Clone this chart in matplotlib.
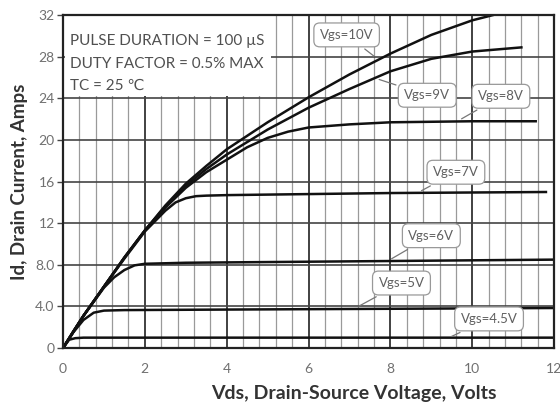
import numpy as np
import matplotlib.pyplot as plt
from matplotlib.patches import Rectangle

# Vds (V) / Id (A) points, one curve per Vgs
vds_10 = [0, 0.25, 0.5, 0.75, 1.0, 1.5, 2.0, 2.5, 3.0, 3.5, 4.0, 5.0, 6.0, 7.0, 8.0, 9.0, 10.0, 10.5]
id_10 = [0, 1.6, 3.1, 4.5, 5.9, 8.7, 11.3, 13.7, 15.8, 17.5, 19.1, 21.7, 24.1, 26.3, 28.3, 30.1, 31.5, 32.0]

vds_9 = [0, 0.5, 1.0, 1.5, 2.0, 2.5, 3.0, 3.5, 4.0, 5.0, 6.0, 7.0, 8.0, 9.0, 10.0, 11.2]
id_9 = [0, 3.1, 5.9, 8.7, 11.3, 13.6, 15.6, 17.2, 18.6, 21.0, 23.1, 24.9, 26.6, 27.8, 28.5, 28.9]

vds_8 = [0, 0.5, 1.0, 1.5, 2.0, 2.5, 3.0, 3.5, 4.0, 4.5, 5.0, 5.5, 6.0, 7.0, 8.0, 10.0, 11.55]
id_8 = [0, 3.1, 5.9, 8.7, 11.3, 13.5, 15.4, 16.9, 18.1, 19.3, 20.2, 20.8, 21.2, 21.5, 21.7, 21.8, 21.8]

vds_7 = [0, 0.5, 1.0, 1.5, 2.0, 2.5, 2.75, 3.0, 3.25, 3.5, 4.0, 6.0, 8.0, 11.8]
id_7 = [0, 3.1, 5.9, 8.6, 11.2, 13.2, 14.0, 14.4, 14.6, 14.65, 14.7, 14.8, 14.9, 15.0]

vds_6 = [0, 0.5, 1.0, 1.25, 1.5, 1.75, 2.0, 3.0, 6.0, 12.0]
id_6 = [0, 3.1, 5.8, 6.8, 7.5, 7.95, 8.1, 8.2, 8.3, 8.5]

vds_5 = [0, 0.25, 0.5, 0.75, 1.0, 1.5, 4.0, 12.0]
id_5 = [0, 1.5, 2.7, 3.4, 3.6, 3.65, 3.7, 3.85]

vds_45 = [0, 0.15, 0.3, 0.5, 12.0]
id_45 = [0, 0.8, 0.95, 1.0, 1.0]

curves = [(vds_10, id_10), (vds_9, id_9), (vds_8, id_8), (vds_7, id_7),
          (vds_6, id_6), (vds_5, id_5), (vds_45, id_45)]

# callout labels: text, box centre, point on curve
labels = ["Vgs=10V", "Vgs=9V", "Vgs=8V", "Vgs=7V", "Vgs=6V", "Vgs=5V", "Vgs=4.5V"]
label_xy = [(6.93, 30.1), (8.9, 24.3), (10.7, 24.2), (9.6, 16.9), (9.0, 10.8), (8.27, 6.25), (10.41, 2.8)]
point_xy = [(7.65, 27.9), (7.66, 25.9), (9.68, 21.9), (8.7, 15.0), (7.97, 8.45), (7.17, 3.9), (9.43, 1.0)]

x_ticks = [0, 2, 4, 6, 8, 10, 12]
y_ticks = [0, 4, 8, 12, 16, 20, 24, 28, 32]
y_ticklabels = ["0", "4.0", "8.0", "12", "16", "20", "24", "28", "32"]
notes = ["PULSE DURATION = 100 µS", "DUTY FACTOR = 0.5% MAX", "TC = 25 ℃"]

plt.rcParams["font.family"] = ["Lato", "DejaVu Sans"]

fig = plt.figure(figsize=(5.6, 4.09), dpi=100)
ax = fig.add_axes([0.1125, 0.149, 0.877, 0.814])

ax.set_xlim(0, 12)
ax.set_ylim(0, 32)
ax.set_xticks(x_ticks)
ax.set_xticks(np.arange(0, 12.01, 0.4), minor=True)
ax.set_yticks(y_ticks)
ax.set_yticklabels(y_ticklabels)
ax.set_axisbelow(True)

ax.grid(which="major", axis="x", color="#333333", lw=1.3)
ax.grid(which="minor", axis="x", color="#9a9a9a", lw=0.9)
ax.grid(which="major", axis="y", color="#444444", lw=1.2)

ax.tick_params(axis="x", which="both", length=0, pad=11, labelsize=10, labelcolor="#707070")
ax.tick_params(axis="y", which="major", length=4, width=1, color="#444444",
               pad=2, labelsize=10, labelcolor="#707070")
ax.tick_params(axis="y", which="minor", length=0)

for s in ax.spines.values():
    s.set_color("#222222")
    s.set_linewidth(1.6)

# white panel behind the test conditions
ax.add_patch(Rectangle((0.04, 24.2), 5.05, 7.75, facecolor="white", edgecolor="none", zorder=1))
for i, t in enumerate(notes):
    ax.text(0.17, 29.5 - i * 2.15, t, fontsize=11, color="#505050", va="center", ha="left", zorder=3)

for vx, iy in curves:
    ax.plot(vx, iy, color="#111111", lw=1.8, zorder=2, clip_on=True)

for t, lxy, pxy in zip(labels, label_xy, point_xy):
    ax.annotate(t, xy=pxy, xytext=lxy, fontsize=9.5, color="#606060", ha="center", va="center",
                bbox=dict(boxstyle="round,pad=0.45", fc="white", ec="#999999", lw=0.9),
                arrowprops=dict(arrowstyle="-", color="#777777", lw=0.9), zorder=4)

ax.set_xlabel("Vds, Drain-Source Voltage, Volts", fontsize=14, fontweight="bold",
              color="#333333")
ax.xaxis.set_label_coords(0.593, -0.112)
ax.set_ylabel("Id, Drain Current, Amps", fontsize=13.5, fontweight="bold",
              color="#333333", labelpad=5)

fig.savefig("out.png", dpi=100)
